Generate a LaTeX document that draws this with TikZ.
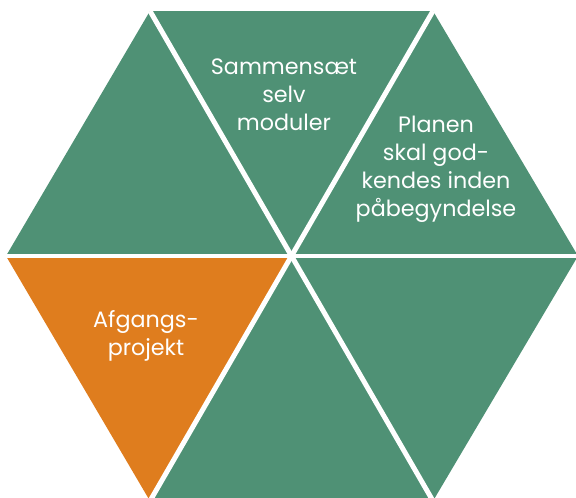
\documentclass[tikz,border=0pt]{standalone}
\usepackage{fontspec}
\setmainfont{Poppins}
\definecolor{hexgreen}{RGB}{79,145,117}
\definecolor{hexorange}{RGB}{223,125,30}
\begin{document}
\begin{tikzpicture}[x=0.03cm,y=-0.03cm,
  hextext/.style={text=white,align=center,font=\fontsize{19}{24}\selectfont},
  gap/.style={white,line width=4.25pt}]
\useasboundingbox (0,0) rectangle (576,498);
\clip (0,0) rectangle (576,498);
% corners of the hexagon
\coordinate (c) at (292,256);
\coordinate (tl) at (150,11);
\coordinate (tr) at (433,11);
\coordinate (r) at (578,256);
\coordinate (br) at (433,501);
\coordinate (bl) at (150,501);
\coordinate (l) at (6,256);
% the six triangles
\fill [hexgreen] (c) -- (tl) -- (tr) -- cycle;
\fill [hexgreen] (c) -- (tr) -- (r) -- cycle;
\fill [hexgreen] (c) -- (r) -- (br) -- cycle;
\fill [hexgreen] (c) -- (br) -- (bl) -- cycle;
\fill [hexorange] (c) -- (bl) -- (l) -- cycle;
\fill [hexgreen] (c) -- (l) -- (tl) -- cycle;
% white gaps
\draw [gap] (l) -- (r);
\draw [gap] (tl) -- (br);
\draw [gap] (tr) -- (bl);
% texts
\node [hextext] (modul) at (284,95) {Sammensæt\\selv\\moduler};
\node [hextext] (plan) at (436,169) {Planen\\skal god-\\kendes inden\\påbegyndelse};
\node [hextext] (afgang) at (146,336) {Afgangs-\\projekt};
\end{tikzpicture}
\end{document}
